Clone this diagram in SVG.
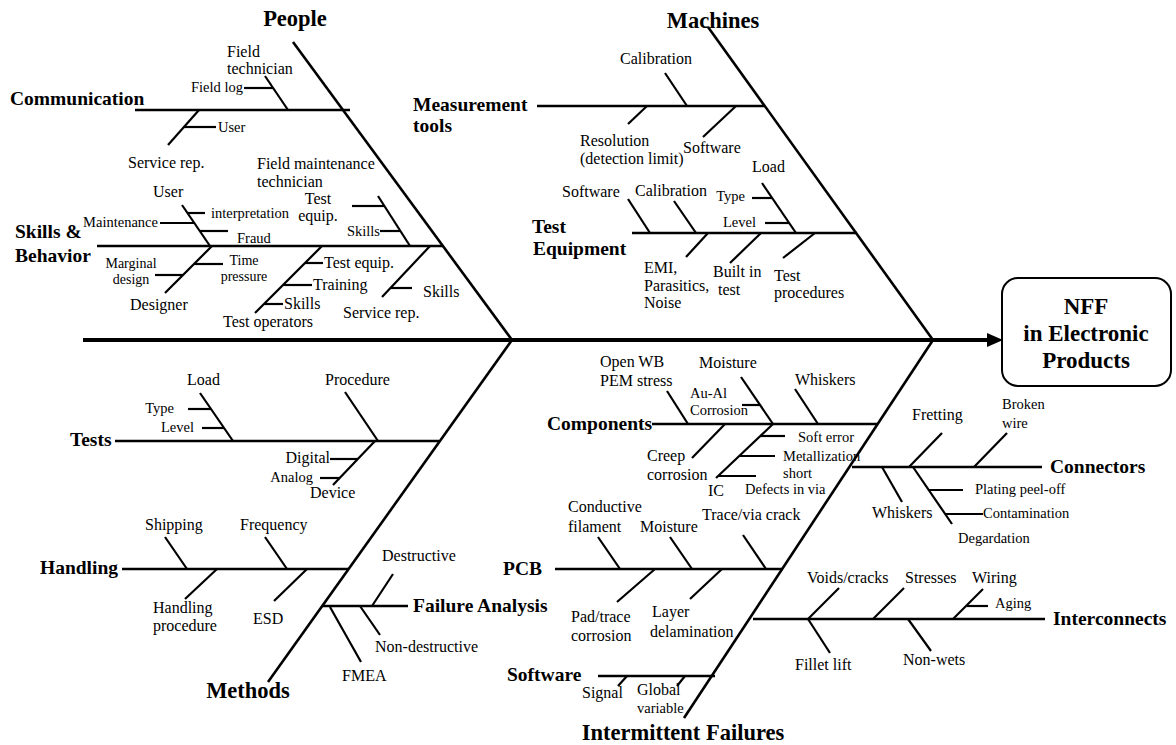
<svg xmlns="http://www.w3.org/2000/svg" width="1176" height="745" viewBox="0 0 1176 745">
<style>
line{stroke:#000;stroke-width:2.2;stroke-linecap:butt}
.b{stroke-width:2.6}
.sp{stroke-width:4}
text{font-family:"Liberation Serif","Times New Roman",serif;fill:#000}
.cat{font-size:22.5px;font-weight:bold}
.grp{font-size:19.5px;font-weight:bold}
.l{font-size:16px}
.s{font-size:14.5px}
.m{text-anchor:middle}
.e{text-anchor:end}
</style>
<rect width="1176" height="745" fill="#fff"/>
<g id="connectors">
<line class="sp" x1="83" y1="340" x2="992" y2="340"/>
<polygon points="1003,340 987,333 987,347" fill="#000"/>
<line class="b" x1="293" y1="42" x2="512" y2="340"/>
<line class="b" x1="512" y1="340" x2="268" y2="682"/>
<line class="b" x1="708" y1="27" x2="933" y2="340"/>
<line class="b" x1="933" y1="340" x2="684" y2="718"/>
</g>
<g id="nff">
<rect x="1002" y="278" width="169" height="108" rx="16" fill="#fff" stroke="#000" stroke-width="2"/>
<text class="cat m" x="1086" y="314" style="font-size:23px">NFF</text>
<text class="cat m" x="1086" y="341" style="font-size:23px">in Electronic</text>
<text class="cat m" x="1086" y="368" style="font-size:23px">Products</text>
</g>
<g id="people">
<text class="cat m" x="295" y="26">People</text>
</g>
<g id="communication">
<line class="b" x1="135" y1="110" x2="350" y2="110"/>
<text class="grp" x="10" y="105">Communication</text>
<line x1="265" y1="76" x2="288" y2="110"/>
<line x1="244" y1="88" x2="273" y2="88"/>
<text class="s e" x="243" y="92">Field log</text>
<text class="l" x="227" y="57">Field</text>
<text class="l" x="227" y="74">technician</text>
<line x1="199" y1="110" x2="168" y2="145"/>
<line x1="184" y1="127" x2="216" y2="127"/>
<text class="s" x="218" y="132">User</text>
<text class="l" x="128" y="168">Service rep.</text>
</g>
<g id="skills">
<line class="b" x1="97" y1="246" x2="443" y2="246"/>
<text class="grp" x="15" y="238">Skills &amp;</text>
<text class="grp" x="15" y="262">Behavior</text>
<line x1="182" y1="205" x2="210" y2="246"/>
<text class="l" x="153" y="197">User</text>
<line x1="188" y1="213" x2="205" y2="213"/>
<text class="s" x="211" y="218">interpretation</text>
<line x1="160" y1="223" x2="194" y2="223"/>
<text class="s e" x="158" y="227">Maintenance</text>
<line x1="200" y1="231" x2="228" y2="231"/>
<text class="s" x="237" y="243">Fraud</text>
<line x1="212" y1="246" x2="165" y2="293"/>
<line x1="194" y1="264" x2="223" y2="264"/>
<text class="m" x="244" y="265" style="font-size:14px">Time</text>
<text class="m" x="244" y="281" style="font-size:14px">pressure</text>
<line x1="155" y1="275" x2="183" y2="275"/>
<text class="m" x="131" y="268" style="font-size:14px">Marginal</text>
<text class="m" x="131" y="284" style="font-size:14px">design</text>
<text class="l" x="130" y="310">Designer</text>
<line x1="378" y1="196" x2="410" y2="246"/>
<line x1="352" y1="206" x2="384" y2="206"/>
<line x1="380" y1="231" x2="400" y2="231"/>
<text class="s e" x="380" y="236">Skills</text>
<text class="l" x="257" y="169">Field maintenance</text>
<text class="l" x="257" y="187">technician</text>
<text class="l m" x="318" y="204">Test</text>
<text class="l m" x="318" y="221">equip.</text>
<line x1="322" y1="246" x2="255" y2="313"/>
<line x1="305" y1="263" x2="323" y2="263"/>
<text class="l" x="324" y="268">Test equip.</text>
<line x1="283" y1="285" x2="312" y2="285"/>
<text class="l" x="313" y="290">Training</text>
<line x1="264" y1="304" x2="283" y2="304"/>
<text class="l" x="284" y="309">Skills</text>
<text class="l" x="223" y="327">Test operators</text>
<line x1="430" y1="246" x2="382" y2="297"/>
<line x1="391" y1="288" x2="412" y2="288"/>
<text class="l" x="423" y="297">Skills</text>
<text class="l" x="343" y="318">Service rep.</text>
</g>
<g id="methods">
<text class="cat m" x="248" y="698">Methods</text>
</g>
<g id="tests">
<line class="b" x1="115" y1="441" x2="439" y2="441"/>
<text class="grp" x="70" y="446">Tests</text>
<line x1="200" y1="393" x2="233" y2="441"/>
<line x1="188" y1="409" x2="211" y2="409"/>
<text class="s e" x="174" y="413">Type</text>
<line x1="202" y1="428" x2="224" y2="428"/>
<text class="s e" x="194" y="432">Level</text>
<text class="l" x="187" y="385">Load</text>
<line x1="345" y1="392" x2="378" y2="441"/>
<text class="l" x="325" y="385">Procedure</text>
<line x1="375" y1="441" x2="333" y2="485"/>
<line x1="330" y1="459" x2="358" y2="459"/>
<text class="l e" x="330" y="463">Digital</text>
<line x1="320" y1="478" x2="340" y2="478"/>
<text class="s e" x="313" y="482">Analog</text>
<text class="l" x="310" y="498">Device</text>
</g>
<g id="handling">
<line class="b" x1="122" y1="569" x2="349" y2="569"/>
<text class="grp" x="40" y="574">Handling</text>
<line x1="165" y1="537" x2="187" y2="569"/>
<text class="l" x="145" y="530">Shipping</text>
<line x1="265" y1="537" x2="287" y2="569"/>
<text class="l" x="240" y="530">Frequency</text>
<line x1="217" y1="569" x2="185" y2="599"/>
<text class="l" x="153" y="613">Handling</text>
<text class="l" x="153" y="631">procedure</text>
<line x1="307" y1="569" x2="274" y2="601"/>
<text class="l" x="253" y="624">ESD</text>
</g>
<g id="failure-analysis">
<line class="b" x1="322" y1="606" x2="408" y2="606"/>
<text class="grp" x="413" y="612">Failure Analysis</text>
<line x1="393" y1="574" x2="372" y2="606"/>
<text class="l" x="382" y="561">Destructive</text>
<line x1="360" y1="606" x2="380" y2="635"/>
<text class="l" x="375" y="652">Non-destructive</text>
<line x1="330" y1="607" x2="361" y2="662"/>
<text class="l" x="342" y="681">FMEA</text>
</g>
<g id="machines">
<text class="cat m" x="713" y="28">Machines</text>
</g>
<g id="measurement">
<line class="b" x1="537" y1="106" x2="765" y2="106"/>
<text class="grp" x="413" y="111">Measurement</text>
<text class="grp" x="413" y="132">tools</text>
<line x1="665" y1="73" x2="687" y2="106"/>
<text class="l" x="620" y="64">Calibration</text>
<line x1="647" y1="106" x2="628" y2="124"/>
<text class="l" x="580" y="146">Resolution</text>
<text class="l" x="580" y="164">(detection limit)</text>
<line x1="736" y1="106" x2="703" y2="137"/>
<text class="l" x="683" y="153">Software</text>
</g>
<g id="test-equipment">
<line class="b" x1="632" y1="233" x2="857" y2="233"/>
<text class="grp" x="532" y="233">Test</text>
<text class="grp" x="533" y="255">Equipment</text>
<line x1="628" y1="199" x2="650" y2="233"/>
<text class="l" x="562" y="197">Software</text>
<line x1="674" y1="201" x2="696" y2="233"/>
<text class="l" x="635" y="196">Calibration</text>
<line x1="762" y1="183" x2="796" y2="233"/>
<line x1="752" y1="198" x2="772" y2="198"/>
<text class="s e" x="745" y="201">Type</text>
<line x1="765" y1="223" x2="789" y2="223"/>
<text class="s e" x="756" y="227">Level</text>
<text class="l" x="752" y="172">Load</text>
<line x1="708" y1="233" x2="686" y2="257"/>
<text class="l" x="644" y="273">EMI,</text>
<text class="l" x="644" y="291">Parasitics,</text>
<text class="l" x="644" y="308">Noise</text>
<line x1="761" y1="233" x2="730" y2="263"/>
<text class="l" x="713" y="277">Built in</text>
<text class="l" x="718" y="295">test</text>
<line x1="815" y1="233" x2="783" y2="258"/>
<text class="l" x="774" y="281">Test</text>
<text class="l" x="774" y="298">procedures</text>
</g>
<g id="intermittent-failures">
<text class="cat m" x="683" y="740">Intermittent Failures</text>
</g>
<g id="components">
<line class="b" x1="652" y1="424" x2="878" y2="424"/>
<text class="grp" x="547" y="430">Components</text>
<line x1="667" y1="391" x2="688" y2="424"/>
<text class="l" x="600" y="367">Open WB</text>
<text class="l" x="600" y="386">PEM stress</text>
<line x1="741" y1="377" x2="773" y2="424"/>
<line x1="742" y1="405" x2="760" y2="405"/>
<text class="s" x="690" y="398">Au-Al</text>
<text class="s" x="690" y="415">Corrosion</text>
<text class="l" x="699" y="368">Moisture</text>
<line x1="795" y1="389" x2="818" y2="424"/>
<text class="l" x="795" y="385">Whiskers</text>
<line x1="725" y1="424" x2="692" y2="458"/>
<text class="l" x="647" y="461">Creep</text>
<text class="l" x="647" y="480">corrosion</text>
<line x1="773" y1="424" x2="716" y2="478"/>
<line x1="760" y1="436" x2="785" y2="436"/>
<text class="s" x="798" y="442">Soft error</text>
<line x1="739" y1="456" x2="775" y2="456"/>
<text class="s" x="783" y="461">Metallization</text>
<text class="s" x="783" y="478">short</text>
<line x1="718" y1="476" x2="756" y2="476"/>
<text class="s" x="745" y="494">Defects in via</text>
<text class="l" x="708" y="496">IC</text>
</g>
<g id="connectors-branch">
<line class="b" x1="852" y1="467" x2="1042" y2="467"/>
<text class="grp" x="1050" y="473">Connectors</text>
<line x1="942" y1="433" x2="909" y2="467"/>
<text class="l" x="912" y="420">Fretting</text>
<line x1="1007" y1="433" x2="974" y2="467"/>
<text class="s" x="1002" y="409">Broken</text>
<text class="s" x="1002" y="428">wire</text>
<line x1="882" y1="467" x2="902" y2="502"/>
<text class="l" x="872" y="518">Whiskers</text>
<line x1="913" y1="467" x2="952" y2="524"/>
<line x1="929" y1="490" x2="963" y2="490"/>
<text class="s" x="975" y="494">Plating peel-off</text>
<line x1="945" y1="514" x2="983" y2="514"/>
<text class="s" x="983" y="518">Contamination</text>
<text class="s" x="958" y="543">Degardation</text>
</g>
<g id="pcb">
<line class="b" x1="555" y1="569" x2="783" y2="569"/>
<text class="grp" x="503" y="575">PCB</text>
<line x1="598" y1="537" x2="620" y2="569"/>
<text class="l" x="568" y="512">Conductive</text>
<text class="l" x="568" y="532">filament</text>
<line x1="670" y1="537" x2="692" y2="569"/>
<text class="l" x="640" y="532">Moisture</text>
<line x1="743" y1="535" x2="766" y2="569"/>
<text class="l" x="702" y="520">Trace/via crack</text>
<line x1="655" y1="569" x2="617" y2="602"/>
<text class="l" x="571" y="622">Pad/trace</text>
<text class="l" x="571" y="641">corrosion</text>
<line x1="722" y1="569" x2="690" y2="599"/>
<text class="l" x="652" y="617">Layer</text>
<text class="l" x="650" y="637">delamination</text>
</g>
<g id="software">
<line class="b" x1="598" y1="676" x2="715" y2="676"/>
<text class="grp" x="507" y="681">Software</text>
<line x1="627" y1="676" x2="618" y2="686"/>
<text class="l" x="582" y="698">Signal</text>
<line x1="685" y1="676" x2="677" y2="686"/>
<text class="l" x="637" y="695">Global</text>
<text class="s" x="637" y="713">variable</text>
</g>
<g id="interconnects">
<line class="b" x1="753" y1="619" x2="1045" y2="619"/>
<text class="grp" x="1053" y="625">Interconnects</text>
<line x1="808" y1="619" x2="839" y2="588"/>
<text class="l" x="807" y="583">Voids/cracks</text>
<line x1="873" y1="619" x2="904" y2="588"/>
<text class="l" x="905" y="583">Stresses</text>
<line x1="953" y1="619" x2="983" y2="589"/>
<line x1="966" y1="606" x2="988" y2="606"/>
<text class="s" x="995" y="608">Aging</text>
<text class="l" x="972" y="583">Wiring</text>
<line x1="808" y1="619" x2="830" y2="653"/>
<text class="l" x="795" y="670">Fillet lift</text>
<line x1="908" y1="619" x2="931" y2="651"/>
<text class="l" x="903" y="665">Non-wets</text>
</g>
</svg>
